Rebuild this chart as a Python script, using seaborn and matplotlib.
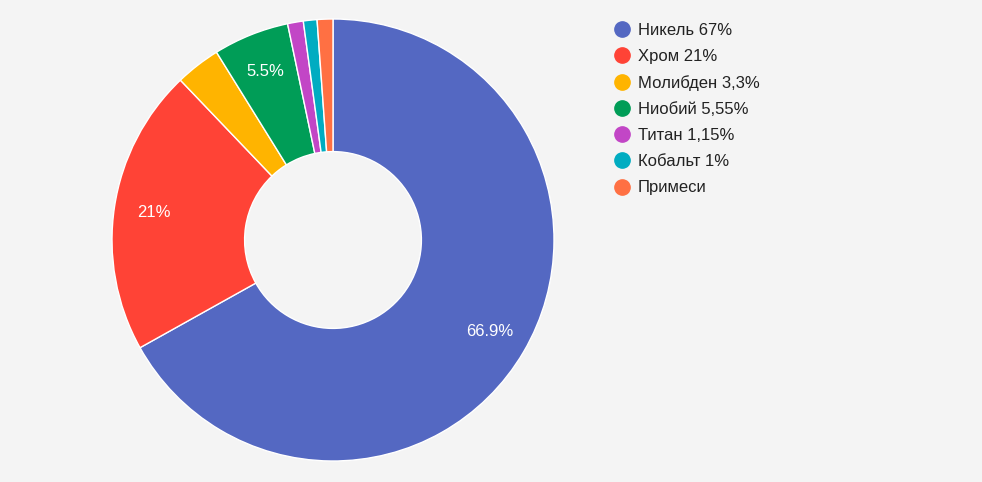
import matplotlib
matplotlib.use("Agg")
import matplotlib.pyplot as plt
import seaborn as sns
from matplotlib.lines import Line2D

categories = ["Никель", "Хром", "Молибден", "Ниобий", "Титан", "Кобальт", "Примеси"]
values = [67, 21, 3.3, 5.55, 1.15, 1, 1.15]
legend_labels = ["Никель 67%", "Хром 21%", "Молибден 3,3%", "Ниобий 5,55%",
                 "Титан 1,15%", "Кобальт 1%", "Примеси"]
colors = ["#5468C2", "#FF4336", "#FFB400", "#009D57", "#C246C6", "#00ACC1", "#FF7043"]

bg = "#F4F4F4"
sns.set_theme(style="white", rc={"figure.facecolor": bg, "axes.facecolor": bg})
plt.rcParams["font.family"] = ["Liberation Sans", "DejaVu Sans"]
palette = sns.color_palette(colors)

fig = plt.figure(figsize=(9.82, 4.82), dpi=100)
ax = fig.add_axes([112 / 982, 21 / 482, 442 / 982, 442 / 482])


def fmt(p):
    if p < 5:
        return ""
    s = f"{p:.1f}"
    if s.endswith(".0"):
        s = s[:-2]
    return s + "%"


wedges, texts, autotexts = ax.pie(
    values, colors=palette, startangle=90, counterclock=False,
    radius=1.0, autopct=fmt, pctdistance=0.82,
    wedgeprops=dict(width=0.6, edgecolor="white", linewidth=1),
    textprops=dict(color="white", fontsize=12),
)
ax.set_xlim(-1, 1)
ax.set_ylim(-1, 1)
ax.set_aspect("equal")
ax.axis("off")

handles = [Line2D([0], [0], marker="o", linestyle="", markersize=11,
                  markerfacecolor=c, markeredgecolor=c) for c in colors]
leg = fig.legend(handles, legend_labels, loc="upper left",
                 bbox_to_anchor=(612 / 982, 1 - 23 / 482), frameon=False,
                 fontsize=12, labelspacing=0.665, handletextpad=0.35,
                 handlelength=1.2, borderaxespad=0, borderpad=0)
for t in leg.get_texts():
    t.set_color("#222222")

fig.savefig("out.png", dpi=100, facecolor=bg)
